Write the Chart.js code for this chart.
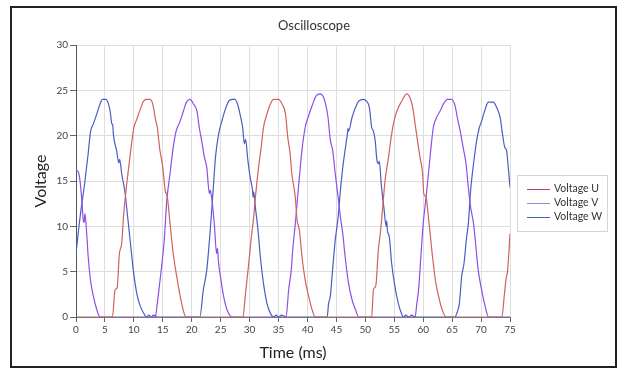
<!DOCTYPE html>
<html>
<head>
<meta charset="utf-8">
<script src="https://cdn.jsdelivr.net/npm/chart.js@4.4.1/dist/chart.umd.min.js"></script>
<style>
  html, body { margin: 0; padding: 0; background: #fff; }
  #wrap { position: relative; width: 627px; height: 372px; }
  #frame { position: absolute; left: 10px; top: 6px; width: 603px; height: 358px; border: 2.5px solid #222; pointer-events: none; }
  canvas { position: absolute; left: 0; top: 0; }
</style>
</head>
<body>
<div id="wrap">
  <canvas id="scope" width="627" height="372"></canvas>
  <div id="frame"></div>
</div>
<script>
// values (time in ms, voltage in V)
var seriesNames = ['Voltage U', 'Voltage V', 'Voltage W'];

var timeU = [0, 6.3, 6.75, 7.1, 7.5, 7.9, 8.2, 8.65, 9.05, 9.6, 10, 10.5, 11.1, 11.65, 12.2, 12.8, 13.25, 13.8, 14.05, 14.5, 15, 15.4, 15.8, 16.25, 16.8, 17.4, 18, 18.6, 19,
  28.85, 29.25, 29.85, 30.3, 30.7, 31, 31.55, 32, 32.4, 33, 33.6, 34.15, 35, 35.6, 36.2, 36.6, 37, 37.3, 37.9, 38.2, 38.6, 39.05, 39.6, 40.2, 40.8, 41.35,
  51.1, 51.4, 51.8, 52.25, 52.65, 53, 53.4, 54, 54.55, 55.1, 55.7, 56.3, 57.15, 57.7, 58.2, 58.6, 59, 59.45, 59.9, 60.1, 60.5, 60.9, 61.2, 61.6, 62.2, 62.8, 63.4, 63.95,
  73.6, 74, 74.3, 74.6, 75];
var voltU = [0, 0, 3, 3.2, 7, 8.1, 11, 14, 16.2, 19.1, 20.9, 21.8, 22.9, 23.8, 24, 24, 23.5, 21.6, 20.9, 18.4, 16.5, 14, 13.2, 10.3, 7, 4.5, 2.3, 0.6, 0,
  0, 2.3, 5.9, 8.8, 11, 13.2, 16.5, 18.7, 20.9, 22.4, 23.5, 24, 24, 23.5, 22.4, 19.8, 18, 15.8, 13.2, 10.7, 9.6, 6.7, 4.1, 2.3, 0.8, 0,
  0, 3, 3.4, 7.4, 9.6, 12.1, 15, 17.6, 20.2, 22, 23.1, 23.8, 24.6, 24.2, 23.1, 21.3, 19.5, 17.6, 15.8, 13.6, 13.2, 11, 9.2, 6.7, 3.7, 1.9, 0.6, 0,
  0, 2.3, 4.1, 5.2, 9.2];

var timeV = [0, 0.4, 0.7, 1, 1.25, 1.4, 1.55, 1.85, 2.1, 2.5, 3, 3.6, 4.15,
  13.7, 14.05, 14.4, 14.8, 15.25, 15.7, 16.25, 16.8, 17.3, 18, 18.55, 19.1, 19.7, 20.3, 20.9, 21.3, 21.7, 22.2, 22.6, 23.05, 23.2, 23.5, 23.9, 24.3, 24.45, 24.6, 24.95, 25.5, 26.1, 27,
  36.3, 36.75, 37.2, 37.45, 37.9, 38.2, 38.6, 39.05, 39.6, 40.2, 40.8, 41.5, 42.2, 42.8, 43.2, 43.55, 43.95, 44.35, 44.8, 45.3, 45.7, 46.1, 46.5, 47.1, 47.7, 48.3, 48.85,
  58.6, 58.9, 59.2, 59.6, 60, 60.5, 60.9, 61.3, 61.75, 62.3, 62.9, 63.5, 64.2, 64.9, 65.5, 65.9, 66.4, 66.9, 67.4, 67.8, 68.2, 68.7, 69.1, 69.5, 70.1, 70.7, 71.3, 75];
var voltV = [16.2, 16, 15, 12.9, 10.7, 10.4, 11.4, 9.2, 6.7, 4.1, 2.3, 0.8, 0,
  0, 1.5, 3.4, 5.6, 8.5, 12.9, 15.8, 18.7, 20.5, 21.6, 22.7, 23.7, 24, 23.5, 22.7, 20.9, 19.5, 17.6, 16.5, 13.6, 14, 12.9, 10.3, 7, 7.6, 6.2, 4.5, 2.3, 0.8, 0,
  0, 3, 5.2, 7.4, 10.3, 12.5, 15.4, 18.4, 20.9, 22.2, 23.3, 24.4, 24.6, 24.2, 23.3, 22, 19.5, 18.4, 15.8, 13.2, 11, 9.2, 6.7, 3.7, 1.9, 0.8, 0,
  0, 1.5, 3, 6.7, 10.3, 13.2, 15.8, 18.4, 20.9, 22, 22.7, 23.5, 24, 24, 23.3, 22, 20.5, 18.7, 16.9, 14.3, 12.1, 10.3, 7.8, 5.2, 3, 1.2, 0, 0];

var timeW = [0, 0.7, 1.55, 2.1, 2.5, 3, 3.6, 4.15, 4.6, 5.2, 5.6, 5.9, 6.2, 6.35, 6.45, 7, 7.4, 7.55, 7.9, 8.5, 8.75, 9.3, 9.9, 10.5, 11.1, 11.8, 12.2, 12.6, 13, 13.4, 14,
  21.4, 22, 22.6, 23.2, 23.7, 24.1, 24.65, 25.2, 25.8, 26.4, 26.95, 27.5, 28, 28.4, 28.8, 29.1, 29.3, 29.7, 30.1, 30.5, 30.6, 30.7, 31, 31.45, 31.85, 32.4, 33, 33.6, 34.15, 34.6, 35, 35.5, 36.3,
  43.4, 43.65, 43.95, 44.25, 44.8, 45.3, 45.7, 46.1, 46.5, 46.9, 47, 47.1, 47.7, 48.3, 48.85, 49.65, 50.2, 50.7, 51.1, 51.4, 51.7, 52, 52.3, 52.4, 52.8, 53.2, 53.6, 53.7, 53.8, 54.15, 54.55, 55.1, 55.7, 56.3, 56.6, 57, 57.5, 58, 58.6,
  65.5, 65.8, 66.25, 66.65, 67.05, 67.5, 67.8, 68.2, 68.7, 69.25, 69.7, 70.1, 70.7, 71.25, 72.1, 72.7, 73.3, 73.7, 74.1, 74.4, 74.7, 75];
var voltW = [7, 11, 15, 18, 20.4, 21.3, 22.4, 23.5, 24, 24, 23.5, 22.7, 21.3, 21.2, 20.2, 18.4, 17, 17.4, 15.8, 13.6, 12.1, 8.8, 5.2, 2.6, 1.2, 0.3, 0, 0.2, 0, 0.2, 0,
  0, 3, 5.2, 9.6, 14, 17.6, 20.2, 21.6, 22.9, 23.8, 24, 24, 23.3, 22.2, 20.9, 19.1, 19.6, 17.3, 15.4, 14, 13.2, 13.8, 12.1, 9.6, 6.7, 3.7, 1.5, 0.4, 0, 0.2, 0, 0.2, 0,
  0, 1.5, 2.3, 4.5, 8.5, 11, 14, 16.5, 18.4, 20.2, 20.8, 20.5, 22, 23.1, 23.8, 24, 23.8, 23.1, 20.9, 20.5, 19.5, 17.3, 16.9, 17.2, 14.3, 12.1, 10, 10.6, 9.6, 8.8, 5.9, 3.4, 1.5, 0.3, 0, 0.2, 0, 0.2, 0,
  0, 0.4, 1.5, 4.5, 5.9, 8.8, 10.3, 14, 16.9, 19.5, 20.9, 21.6, 22.9, 23.7, 23.7, 23.1, 22, 20.2, 18.7, 18.4, 16.5, 14.3];

var seriesColors = ['#d0615f', '#8d4fe6', '#4b5dc2'];
var legendColors = ['#b04a55', '#a882cf', '#4a5cb4'];

function toPoints(ts, vs) {
  return ts.map(function (t, i) { return { x: t, y: vs[i] }; });
}

Chart.defaults.font.family = 'Lato, "Open Sans", sans-serif';

// legend drawn in a framed box at the right, like the spreadsheet chart
var boxedLegend = {
  id: 'boxedLegend',
  afterDraw: function (chart) {
    var ctx = chart.ctx;
    ctx.save();
    ctx.strokeStyle = '#d4d4d4';
    ctx.lineWidth = 1;
    ctx.strokeRect(517.5, 175.5, 90, 56);
    ctx.font = '10.5px Lato, "Open Sans", sans-serif';
    ctx.textBaseline = 'middle';
    chart.data.datasets.forEach(function (ds, i) {
      var y = 189 + i * 14;
      ctx.strokeStyle = legendColors[i];
      ctx.beginPath();
      ctx.moveTo(527, y + 0.5);
      ctx.lineTo(550, y + 0.5);
      ctx.stroke();
      ctx.fillStyle = '#333';
      ctx.fillText(ds.label, 554, y);
    });
    ctx.restore();
  }
};

new Chart('scope', {
  type: 'line',
  data: {
    datasets: [
      { label: seriesNames[0], data: toPoints(timeU, voltU), borderColor: seriesColors[0] },
      { label: seriesNames[1], data: toPoints(timeV, voltV), borderColor: seriesColors[1] },
      { label: seriesNames[2], data: toPoints(timeW, voltW), borderColor: seriesColors[2] }
    ]
  },
  options: {
    responsive: false,
    animation: false,
    layout: { padding: { left: 14, right: 13, top: 0, bottom: 0 } },
    elements: {
      point: { radius: 0 },
      line: { borderWidth: 1.2, cubicInterpolationMode: 'monotone' }
    },
    plugins: {
      legend: { display: false },
      tooltip: { enabled: false },
      title: {
        display: true,
        text: 'Oscilloscope',
        color: '#333',
        font: { size: 13, weight: 'normal' },
        padding: { top: 18, bottom: 11.4 }
      }
    },
    scales: {
      x: {
        type: 'linear',
        min: 0,
        max: 75,
        ticks: { stepSize: 5, color: '#444', font: { size: 10 }, padding: 2 },
        grid: { color: '#dedede', tickColor: '#666', tickLength: 5 },
        border: { color: '#777' },
        title: { display: true, text: 'Time (ms)', color: '#222', font: { size: 16 }, padding: { top: 0, bottom: 9.4 } },
        afterFit: function (scale) { scale.height = 55; }
      },
      y: {
        min: 0,
        max: 30,
        ticks: { stepSize: 5, color: '#444', font: { size: 10 }, padding: 2 },
        grid: { color: '#dedede', tickColor: '#666', tickLength: 6 },
        border: { color: '#555' },
        title: { display: true, text: 'Voltage', color: '#222', font: { size: 16 }, padding: { top: 17.4, bottom: 0 } },
        afterFit: function (scale) { scale.width = 62; }
      },
      // empty right-hand axis that reserves the legend column
      legendSpace: {
        position: 'right',
        min: 0,
        max: 30,
        ticks: { display: false },
        grid: { display: false, drawTicks: false },
        border: { display: false },
        afterFit: function (scale) { scale.width = 104; }
      }
    }
  },
  plugins: [boxedLegend]
});
</script>
</body>
</html>
